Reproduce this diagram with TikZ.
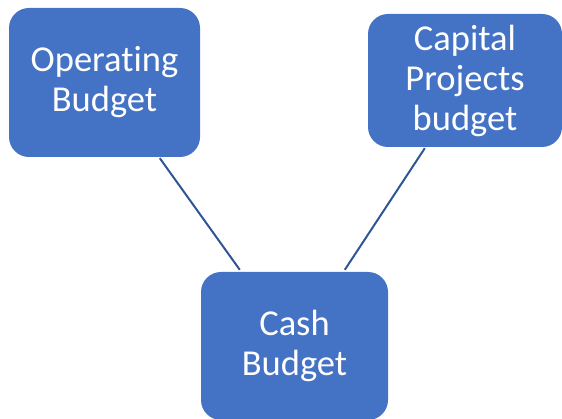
\documentclass[tikz,border=0pt]{standalone}
\usepackage{fontspec}
\setmainfont[Ligatures=NoCommon]{Carlito}
\usetikzlibrary{calc}
\begin{document}
\begin{tikzpicture}[x=1pt,y=-1pt,
  box/.style={draw=none,fill=boxblue,rounded corners=20pt,inner sep=0pt,
    text=white,align=center,font=\fontsize{36.5}{40}\selectfont},
  link/.style={draw=lineblue,line width=2pt}]
\definecolor{boxblue}{HTML}{4472C4}
\definecolor{lineblue}{HTML}{2F5597}
\useasboundingbox (0,0) rectangle (562,419);
\node[box,minimum width=191pt,minimum height=149pt] (op) at (104.5,82.5) {Operating\\Budget};
\node[box,minimum width=194pt,minimum height=133pt] (cap) at (465,80.5) {Capital\\Projects\\budget};
\node[box,minimum width=187pt,minimum height=148pt] (cash) at (294.5,346) {Cash\\Budget};
\coordinate (a1) at ($(op.south west)+(151,1)$);
\coordinate (a2) at ($(cash.north west)+(39,-2)$);
\coordinate (b1) at ($(cap.south west)+(57,1)$);
\coordinate (b2) at ($(cash.north west)+(144,-2)$);
\draw[link] (a1) -- (a2);
\draw[link] (b1) -- (b2);
\end{tikzpicture}
\end{document}
